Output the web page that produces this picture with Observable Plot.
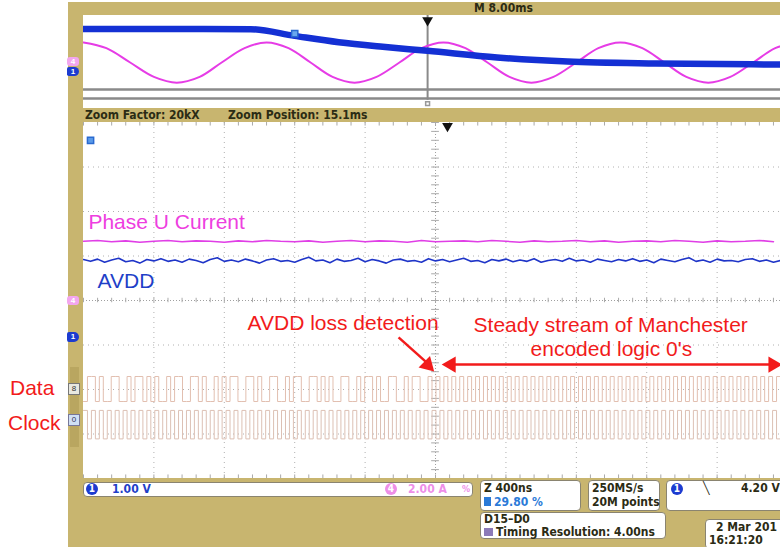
<!DOCTYPE html>
<html><head><meta charset="utf-8">
<script src="https://cdn.jsdelivr.net/npm/d3@7"></script>
<script src="https://cdn.jsdelivr.net/npm/@observablehq/plot@0.6"></script>
<style>
body{margin:0;width:780px;height:547px;overflow:hidden;position:relative;background:#fff;font-family:"Liberation Sans",Arial,sans-serif}
.abs{position:absolute}
.ui{position:absolute;font-family:"Liberation Sans Narrow","DejaVu Sans Condensed",sans-serif;font-weight:bold;font-size:12px;color:#2b2b14;white-space:nowrap;line-height:14px}
.box{position:absolute;background:#fff;border:1px solid #8a8470;border-radius:4px;box-sizing:border-box}
.lbl{position:absolute;font-size:21px;color:#f21b1b;font-family:"Liberation Sans",Arial,sans-serif;line-height:22px}
.circ{position:absolute;width:12px;height:12px;border-radius:6px;color:#fff;font-size:10px;line-height:12px;text-align:center;font-family:"DejaVu Sans Condensed",sans-serif;font-weight:bold}
</style></head><body>
<div class="abs" style="left:68px;top:0;width:712px;height:547px;background:#c8b56f"></div>
<div class="abs" style="left:68px;top:0;width:712px;height:2px;background:#fff"></div>
<div id="ov" class="abs" style="left:83px;top:15px;width:697px;height:93px;overflow:hidden"></div>
<div id="main" class="abs" style="left:83px;top:122px;width:697px;height:356px;overflow:hidden"></div>
<div class="ui" style="left:474px;top:1px">M 8.00ms</div>
<div class="ui" style="left:85px;top:108px">Zoom Factor: 20kX</div>
<div class="ui" style="left:228px;top:108px">Zoom Position: 15.1ms</div>

<!-- left bezel markers -->
<div class="abs" style="left:67px;top:57px;width:12px;height:9px;background:#f3a6ef;border-radius:3px;color:#fff;font-size:8px;line-height:9px;text-align:center;font-weight:bold">4</div>
<div class="abs" style="left:67px;top:67px;width:12px;height:9px;background:#1c3bd0;border-radius:2px 5px 5px 2px;color:#fff;font-size:8px;line-height:9px;text-align:center;font-weight:bold">1</div>
<div class="abs" style="left:67px;top:296px;width:12px;height:9px;background:#f3a6ef;border-radius:3px;color:#fff;font-size:8px;line-height:9px;text-align:center;font-weight:bold">4</div>
<div class="abs" style="left:67px;top:332px;width:12px;height:10px;background:#1c3bd0;border-radius:2px 5px 5px 2px;color:#fff;font-size:8px;line-height:10px;text-align:center;font-weight:bold">1</div>
<div class="abs" style="left:70px;top:367px;width:9px;height:80px;background:#b9a660"></div>
<div class="abs" style="left:68px;top:383px;width:10px;height:10px;background:#e8e8e0;border:1px solid #777;font-size:8px;line-height:10px;text-align:center;color:#333">8</div>
<div class="abs" style="left:68px;top:414px;width:10px;height:10px;background:#cfe0f5;border:1px solid #779;font-size:8px;line-height:10px;text-align:center;color:#335">0</div>

<div class="lbl" style="left:10px;top:377px">Data</div>
<div class="lbl" style="left:8px;top:412px">Clock</div>

<!-- bottom readouts -->
<div class="box" style="left:83px;top:482px;width:390px;height:15px"></div>
<div class="circ" style="left:86px;top:483px;background:#1c3bd0">1</div>
<div class="ui" style="left:112px;top:482px;color:#1f3fc8">1.00 V</div>
<div class="circ" style="left:385px;top:483px;background:#ee8ee8">4</div>
<div class="ui" style="left:408px;top:482px;color:#ee8ee8">2.00 A</div>
<div class="ui" style="left:462px;top:482px;color:#ee8ee8;font-size:9px">%</div>

<div class="box" style="left:480px;top:480px;width:101px;height:31px"></div>
<div class="ui" style="left:484px;top:481px">Z 400ns</div>
<div class="abs" style="left:484px;top:497px;width:7px;height:9px;background:#2a7ad8"></div>
<div class="ui" style="left:494px;top:495px;color:#2a7ad8">29.80 %</div>

<div class="box" style="left:588px;top:480px;width:72px;height:31px"></div>
<div class="ui" style="left:592px;top:481px">250MS/s</div>
<div class="ui" style="left:592px;top:495px">20M points</div>

<div class="box" style="left:666px;top:480px;width:125px;height:31px"></div>
<div class="circ" style="left:671px;top:483px;background:#1c3bd0">1</div>
<div class="ui" style="left:703px;top:481px">╲</div>
<div class="ui" style="left:741px;top:481px">4.20 V</div>

<div class="box" style="left:480px;top:512px;width:186px;height:27px"></div>
<div class="ui" style="left:484px;top:512px">D15–D0</div>
<div class="abs" style="left:484px;top:528px;width:9px;height:8px;background:#8c7ab8"></div>
<div class="ui" style="left:496px;top:525px">Timing Resolution: 4.00ns</div>

<div class="box" style="left:705px;top:519px;width:85px;height:30px"></div>
<div class="ui" style="left:716px;top:520px">2 Mar 201</div>
<div class="ui" style="left:709px;top:533px">16:21:20</div>

<script>
// ---------- Overview (M 8.00ms/div), time in ms, y in divisions ----------
const ovBlueT = [0, 10, 19, 24, 29, 34, 39.1, 47, 55, 65, 79.2];
const ovBlueV = [3.7, 3.7, 3.68, 3.1, 2.55, 2.15, 1.8, 1.22, 0.87, 0.70, 0.61];
const ovMagT = [0, 2.6, 5.3, 8.0, 10.6, 13.2, 15.7, 18.3, 20.8, 23.3, 25.8, 28.3, 30.8, 33.3, 35.9, 38.4, 40.9, 43.4, 45.9, 48.4, 50.9, 53.4, 56.0, 58.5, 61.0, 63.5, 66.0, 68.5, 71.0, 73.5, 76.1, 78.6, 81.1];
const ovMagA = [3.5, 2.5, 0, -2.5, -3.5, -2.5, 0, 2.5, 3.5, 2.5, 0, -2.5, -3.5, -2.5, 0, 2.5, 3.5, 2.5, 0, -2.5, -3.5, -2.5, 0, 2.5, 3.5, 2.5, 0, -2.5, -3.5, -2.5, 0, 2.5, 3.5];
const ovCursorT = 39.1;
const ovTriggerT = 24;

// ---------- Zoomed main view (400ns/div), time in ns ----------
const mainMagT0 = -2000, mainMagStep = 80;
const mainMag = [1.33,1.35,1.32,1.34,1.31,1.33,1.35,1.32,1.34,1.33,
1.31,1.34,1.32,1.35,1.33,1.32,1.34,1.31,1.33,1.35,
1.32,1.34,1.33,1.31,1.35,1.32,1.33,1.34,1.32,1.35,
1.33,1.31,1.34,1.32,1.33,1.35,1.32,1.34,1.31,1.33,
1.34,1.32,1.35,1.33,1.31,1.34,1.32,1.33,1.35,1.32];
const mainBlueT0 = -2000, mainBlueStep = 40;
const mainBlue = [0.92,0.88,0.93,0.86,0.91,0.95,0.87,0.90,0.84,0.92,
0.89,0.94,0.88,0.91,0.86,0.93,0.90,0.85,0.92,0.96,
0.88,0.91,0.87,0.93,0.89,0.84,0.91,0.94,0.88,0.90,
0.86,0.92,0.97,0.89,0.91,0.85,0.93,0.88,0.90,0.95,
0.87,0.92,0.89,0.84,0.91,0.93,0.88,0.90,0.86,0.94,
0.89,0.92,0.87,0.91,0.95,0.88,0.90,0.85,0.92,0.89,
0.93,0.87,0.91,0.88,0.94,0.86,0.90,0.92,0.88,0.95,
0.89,0.91,0.86,0.93,0.90,0.87,0.92,0.89,0.94,0.88,
0.91,0.85,0.93,0.90,0.87,0.92,0.96,0.88,0.91,0.86,
0.93,0.89,0.90,0.87,0.92,0.94,0.88,0.91,0.86,0.90];

// digital channels: levels per half-bit (22.5 ns)
const halfBitNs = 22.5, digT0 = -2000;
const dataBefore = ["01","10","10","01","10","01","01","10","10","10","01","01","10","01","10","10","01","01","01","10","01","10","10","01","10","01","01","10","01","10","10","10","01","10","01","01","10","10","01","10","01","01","10","01"].join("");
const dataAfter = "01010101010101010101" + "01010101010101010101" + "01010101010101010101" + "01010101010101010101" + "01010101";
const clockLevels = "10101010101010101010" + "10101010101010101010" + "10101010101010101010" + "10101010101010101010" + "10101010101010101010" + "10101010101010101010" + "10101010101010101010" + "10101010101010101010" + "1010101010101010";
const dataHi = -1.708, dataLo = -2.27, clkHi = -2.47, clkLo = -3.11;

const labels = ["Phase U Current", "AVDD", "AVDD loss detection", "Steady stream of Manchester", "encoded logic 0's"];

// ----- build overview -----
const ovBlue = ovBlueT.map((t,i)=>({t, v: ovBlueV[i]}));
const ch4Offset = 0.78; // ch4 ground marker above ch1 ground, in divisions
const ovMag = ovMagT.map((t,i)=>({t, v: ovMagA[i]/2 + ch4Offset}));

const ov = Plot.plot({
  width: 697, height: 93, margin: 0,
  x: {domain: [0, 79.2], axis: null},
  y: {domain: [-3.22, 4.87], axis: null},
  style: {background: "#fff"},
  marks: [
    Plot.ruleY([-1.57, -2.35], {stroke: "#8a8a8a", strokeWidth: 2.5}),
    Plot.ruleX([ovCursorT], {y1: -2.5, y2: 4.87, stroke: "#8a8a8a", strokeWidth: 2}),
    Plot.line(ovMag, {x: "t", y: "v", curve: "catmull-rom", stroke: "#e63ce6", strokeWidth: 2}),
    Plot.line(ovBlue, {x: "t", y: "v", curve: "monotone-x", stroke: "#1430d4", strokeWidth: 6.5}),
    Plot.dot([ovCursorT], {x: d=>d, y: 4.45, symbol: "triangle", rotate: 180, r: 4, fill: "#111"}),
    Plot.dot([ovCursorT], {x: d=>d, y: -2.8, symbol: "square", r: 2.2, stroke: "#999", fill: "#fff"}),
    Plot.dot([ovTriggerT], {x: d=>d, y: 3.3, symbol: "square", r: 3.5, fill: "#6aa8ee", stroke: "#2a6ad0"})
  ]
});
document.getElementById("ov").appendChild(ov);

// ----- build main -----
const magPts = mainMag.map((v,i)=>({t: mainMagT0 + i*mainMagStep, v}));
const bluePts = mainBlue.map((v,i)=>({t: mainBlueT0 + i*mainBlueStep, v}));
function steps(levels, hi, lo){
  const pts = [];
  for (let i = 0; i < levels.length; i++) pts.push({t: digT0 + i*halfBitNs, v: levels[i] === "1" ? hi : lo});
  pts.push({t: digT0 + levels.length*halfBitNs, v: pts[pts.length-1].v});
  return pts;
}
const dataPts = steps(dataBefore + dataAfter, dataHi, dataLo);
const clkPts = steps(clockLevels, clkHi, clkLo);

const gridT = [-1600,-1200,-800,-400,400,800,1200,1600];
const gridY = [-3,-2,-1,1,2,3];
const minorT = d3.range(-2000, 2000, 80);
const minorY = d3.range(-4, 4.01, 0.2);

const textAnn = [
  {x: -1972, y: 1.75, s: labels[0], c: "#ee3ee0"},
  {x: -1920, y: 0.43, s: labels[1], c: "#1f3fc8"},
  {x: -1068, y: -0.52, s: labels[2], c: "#f21b1b"},
  {x: 216, y: -0.55, s: labels[3], c: "#f21b1b"},
  {x: 540, y: -1.10, s: labels[4], c: "#f21b1b"}
];
const arrowLines = [
  {x1: -210, y1: -0.83, x2: -51, y2: -1.39},
  {x1: 91, y1: -1.44, x2: 1915, y2: -1.44}
];
const arrowHeads = [
  {x: -45, y: -1.45, r: 135},
  {x: 88, y: -1.44, r: -90},
  {x: 1918, y: -1.44, r: 90}
];

const main = Plot.plot({
  width: 697, height: 356, margin: 0,
  x: {domain: [-2000, 1960], axis: null},
  y: {domain: [-4, 4], axis: null},
  style: {background: "#fff"},
  marks: [
    Plot.ruleX(gridT, {stroke: "#b0b0b0", strokeDasharray: "1,4"}),
    Plot.ruleY(gridY, {stroke: "#b0b0b0", strokeDasharray: "1,4"}),
    Plot.ruleX([0], {stroke: "#a0a0a0", strokeDasharray: "1,2"}),
    Plot.ruleY([0], {stroke: "#a0a0a0", strokeDasharray: "1,2"}),
    Plot.ruleX(minorT, {y1: -0.05, y2: 0.05, stroke: "#aaa"}),
    Plot.ruleY(minorY, {x1: -22, x2: 22, stroke: "#aaa"}),
    Plot.ruleX(minorT, {y1: 3.92, y2: 4, stroke: "#aaa"}),
    Plot.ruleX(minorT, {y1: -4, y2: -3.92, stroke: "#aaa"}),
    Plot.line(dataPts, {x: "t", y: "v", curve: "step-after", stroke: "#e2bfb0", strokeWidth: 1}),
    Plot.line(clkPts, {x: "t", y: "v", curve: "step-after", stroke: "#dcc0b4", strokeWidth: 1}),
    Plot.line(magPts, {x: "t", y: "v", stroke: "#e03ee6", strokeWidth: 1.6}),
    Plot.line(bluePts, {x: "t", y: "v", stroke: "#1f35c8", strokeWidth: 1.6}),
    Plot.text(textAnn, {x: "x", y: "y", text: "s", fill: "c", textAnchor: "start", lineAnchor: "middle", fontSize: 21, fontFamily: "Liberation Sans, Arial, sans-serif"}),
    Plot.link(arrowLines, {x1: "x1", y1: "y1", x2: "x2", y2: "y2", stroke: "#f21b1b", strokeWidth: 2.5}),
    Plot.dot(arrowHeads, {x: "x", y: "y", rotate: "r", symbol: "triangle", r: 6, fill: "#f21b1b"}),
    Plot.dot([68], {x: d=>d, y: 3.92, symbol: "triangle", rotate: 180, r: 4, fill: "#111"}),
    Plot.dot([-1960], {x: d=>d, y: 3.6, symbol: "square", r: 3.5, fill: "#5a9ae8", stroke: "#2a6ad0"})
  ]
});
document.getElementById("main").appendChild(main);
</script>
</body></html>
